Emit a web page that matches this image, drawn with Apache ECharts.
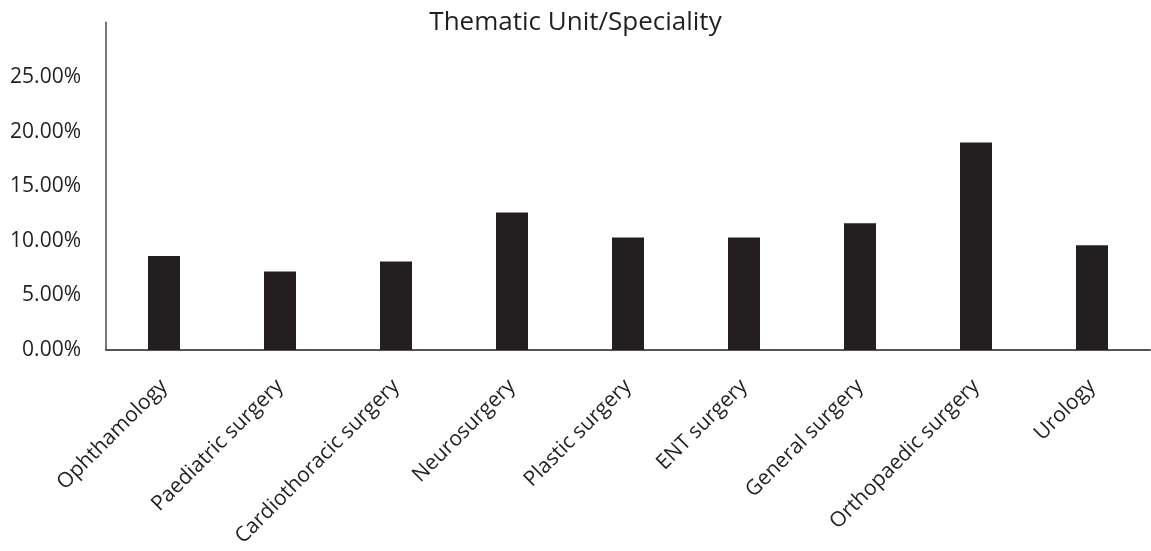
<!DOCTYPE html>
<html>
<head>
<meta charset="utf-8">
<script src="https://cdn.jsdelivr.net/npm/echarts@6/dist/echarts.min.js"></script>
<style>
html,body{margin:0;padding:0;background:#fff;}
#chart{width:1151px;height:551px;}
</style>
</head>
<body>
<div id="chart"></div>
<script>
const categories = ["Ophthamology","Paediatric surgery","Cardiothoracic surgery","Neurosurgery","Plastic surgery","ENT surgery","General surgery","Orthopaedic surgery","Urology"];
const values = [8.6, 7.2, 8.1, 12.6, 10.3, 10.3, 11.6, 19.0, 9.6];
const chartTitle = "Thematic Unit/Speciality";

const chart = echarts.init(document.getElementById('chart'));
chart.setOption({
  animation: false,
  backgroundColor: '#ffffff',
  title: {
    text: chartTitle,
    left: 'center',
    top: 5,
    textStyle: { fontFamily: 'Open Sans', fontSize: 26, fontWeight: 'normal', color: '#231f20' }
  },
  grid: { left: 106, right: 1, top: 22.4, bottom: 201, containLabel: false },
  xAxis: {
    type: 'category',
    data: categories,
    axisLine: { lineStyle: { color: '#555', width: 2 } },
    axisTick: { show: false },
    axisLabel: {
      rotate: 45,
      interval: 0,
      margin: 33,
      fontFamily: 'Open Sans',
      fontSize: 21,
      color: '#231f20'
    }
  },
  yAxis: {
    type: 'value',
    min: 0,
    max: 30,
    interval: 5,
    axisLine: { show: true, lineStyle: { color: '#777', width: 2 } },
    axisTick: { show: false },
    splitLine: { show: false },
    axisLabel: {
      margin: 25,
      fontFamily: 'Open Sans',
      fontSize: 21,
      color: '#231f20',
      formatter: function (v) { return v >= 30 ? '' : v.toFixed(2) + '%'; }
    }
  },
  series: [{
    type: 'bar',
    data: values,
    barWidth: 32,
    itemStyle: { color: '#231f20' }
  }]
});
</script>
</body>
</html>
